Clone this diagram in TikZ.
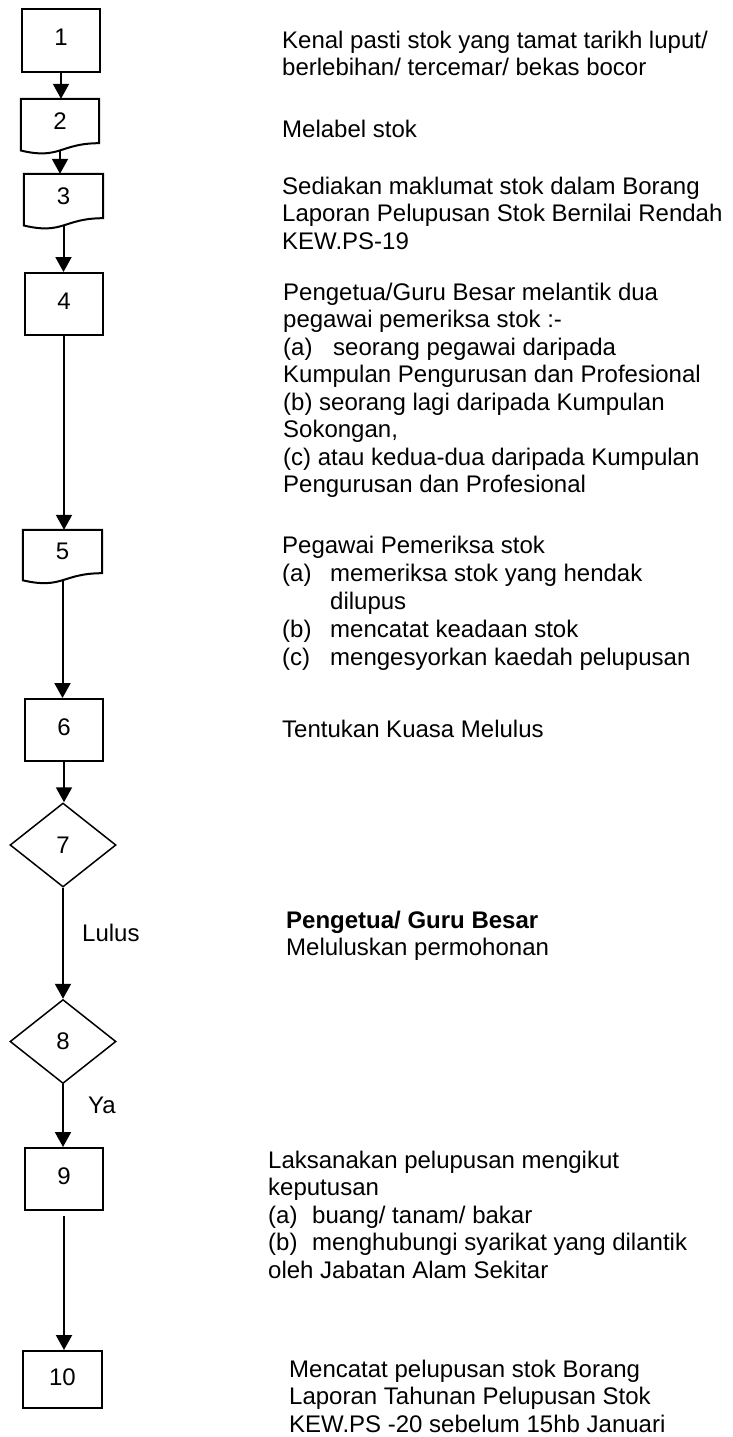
\documentclass[tikz,border=0pt]{standalone}
\usepackage{fontspec}
\setmainfont{Liberation Sans}
\usetikzlibrary{arrows.meta,shapes.geometric,calc}
\begin{document}
\begin{tikzpicture}[x=1pt,y=-1pt,
  font=\fontsize{24}{27.5}\selectfont,
  box/.style={draw, line width=2pt, inner sep=0pt, text height=17pt, text depth=6pt},
  docnode/.style={inner sep=0pt},
  docline/.style={line width=2pt, line join=miter},
  dia/.style={draw, diamond, line width=1.5pt, inner sep=0pt, minimum width=106pt, minimum height=84pt},
  arr/.style={line width=2pt, -{Triangle[width=16pt,length=15pt]}},
  txt/.style={anchor=base west, align=left, inner sep=0pt},
]
\useasboundingbox (0,0) rectangle (732,1437);

% flow nodes
\node[box, minimum width=78pt, minimum height=63pt] (n1) at (61,40.5) {1};
\node[docnode, minimum width=78pt, minimum height=44pt] (n2) at (60,121) {2};
\node[docnode, minimum width=79pt, minimum height=44pt] (n3) at (63.5,196) {3};
\node[box, minimum width=78pt, minimum height=62pt] (n4) at (64,304) {4};
\node[docnode, minimum width=79pt, minimum height=43pt] (n5) at (62.5,551.5) {5};
\node[box, minimum width=78pt, minimum height=62pt] (n6) at (64,730) {6};
\node[dia] (n7) at (63,845) {7};
\node[dia] (n8) at (63,1041.5) {8};
\node[box, minimum width=78pt, minimum height=62pt] (n9) at (64,1179) {9};
\node[box, minimum width=79pt, minimum height=57pt] (n10) at (62.5,1379.5) {10};

% document shapes
\draw[docline] (n2.north west) -- (n2.north east) -- (n2.south east)
  .. controls (n2.south) and ([yshift=-16.8pt]n2.south) .. ([yshift=-7.3pt]n2.south west) -- cycle;
\draw[docline] (n3.north west) -- (n3.north east) -- (n3.south east)
  .. controls (n3.south) and ([yshift=-16.8pt]n3.south) .. ([yshift=-7.3pt]n3.south west) -- cycle;
\draw[docline] (n5.north west) -- (n5.north east) -- (n5.south east)
  .. controls (n5.south) and ([yshift=-16.4pt]n5.south) .. ([yshift=-7.1pt]n5.south west) -- cycle;

% connectors
\draw[arr] (n1.south) -- (n1.south |- n2.north);
\draw[arr] ([yshift=-7.2pt]n2.south) -- (n2.south |- n3.north);
\draw[arr] ([yshift=-7.2pt]n3.south) -- (n3.south |- n4.north);
\draw[arr] (n4.south) -- (n4.south |- n5.north);
\draw[arr] ([yshift=-7pt]n5.south) -- (n5.south |- n6.north);
\draw[arr] (n6.south) -- (n6.south |- n7.north);
\draw[arr] (n7.south) -- (n8.north);
\draw[arr] (n8.south) -- (n8.south |- n9.north);
\draw[arr] ([yshift=-5pt]n9.south) -- (n9.south |- n10.north);

% edge labels
\node[anchor=base west, inner sep=0pt] (lulus) at (82,941) {Lulus};
\node[anchor=base west, inner sep=0pt] (ya) at (88,1113) {Ya};

% descriptions (anchor = baseline of last line)
\node[txt] (t1) at (282,75.5) {Kenal pasti stok yang tamat tarikh luput/\\berlebihan/ tercemar/ bekas bocor};
\node[txt] (t2) at (282,137) {Melabel stok};
\node[txt] (t3) at (282,249) {Sediakan maklumat stok dalam Borang\\Laporan Pelupusan Stok Bernilai Rendah\\KEW.PS-19};
\node[txt] (t4) at (283,492.5) {Pengetua/Guru Besar melantik dua\\pegawai pemeriksa stok :-\\\makebox[50pt][l]{(a)}seorang pegawai daripada\\Kumpulan Pengurusan dan Profesional\\(b) seorang lagi daripada Kumpulan\\Sokongan,\\(c) atau kedua-dua daripada Kumpulan\\Pengurusan dan Profesional};
\node[txt, font=\fontsize{24}{28}\selectfont] (t5) at (282,665) {Pegawai Pemeriksa stok\\\makebox[48pt][l]{(a)}memeriksa stok yang hendak\\\hspace*{48pt}dilupus\\\makebox[48pt][l]{(b)}mencatat keadaan stok\\\makebox[48pt][l]{(c)}mengesyorkan kaedah pelupusan};
\node[txt] (t6) at (282,737) {Tentukan Kuasa Melulus};
\node[txt] (t7) at (286,955.5) {\bfseries Pengetua/ Guru Besar\\Meluluskan permohonan};
\node[txt] (t9) at (268,1278) {Laksanakan pelupusan mengikut\\keputusan\\\makebox[44pt][l]{(a)}buang/ tanam/ bakar\\\makebox[44pt][l]{(b)}menghubungi syarikat yang dilantik\\oleh Jabatan Alam Sekitar};
\node[txt] (t10) at (289,1432) {Mencatat pelupusan stok Borang\\Laporan Tahunan Pelupusan Stok\\KEW.PS -20 sebelum 15hb Januari};
\end{tikzpicture}
\end{document}
